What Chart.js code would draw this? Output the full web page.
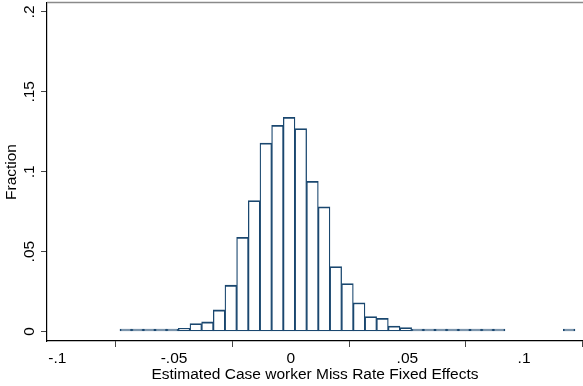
<!DOCTYPE html>
<html>
<head>
<meta charset="utf-8">
<script src="https://cdn.jsdelivr.net/npm/chart.js@4"></script>
<style>
  body { margin: 0; background: #fff; }
</style>
</head>
<body>
<canvas id="histChart" width="583" height="386"></canvas>
<script>
// bin midpoints (bin width .005) and fraction per bin
const binMids = [-0.07067, -0.06567, -0.06067, -0.05567, -0.05067, -0.04567, -0.04067, -0.03567,
  -0.03067, -0.02567, -0.02067, -0.01567, -0.01067, -0.00567, -0.00067, 0.00433, 0.00933,
  0.01433, 0.01933, 0.02433, 0.02933, 0.03433, 0.03933, 0.04433, 0.04933, 0.05433, 0.05933,
  0.06433, 0.06933, 0.07433, 0.07933, 0.08433, 0.08933, 0.09433, 0.09933, 0.10433, 0.10933,
  0.11433, 0.11933];
const fractions = [0.0005, 0.0005, 0.0003, 0.0004, 0.0008, 0.002, 0.005, 0.006,
  0.0135, 0.029, 0.059, 0.082, 0.118, 0.129, 0.134, 0.127, 0.094,
  0.078, 0.0406, 0.030, 0.018, 0.0093, 0.0083, 0.0034, 0.0024, 0.0003, 0.0008,
  0.0003, 0.0001, 0.0003, 0.0002, 0.0002, 0.0002, null, null, null, null,
  null, 0.0005];
const xTicks = [-0.1, -0.05, 0, 0.05, 0.1];
const yTicks = [0, 0.05, 0.1, 0.15, 0.2];

const FONT = '"Liberation Sans", Arial, Helvetica, sans-serif';
const NAVY = '#1a476f';

// stata style numbers: -.05, .1, 0
function stataFmt(v) {
  if (Math.abs(v) < 1e-9) return '0';
  let s = String(Math.round(v * 1000) / 1000);
  return s.replace(/^(-?)0\./, '$1.');
}

// y tick labels are vertical in the original, chart.js can't rotate them on a y axis
const rotatedYLabels = {
  id: 'rotatedYLabels',
  afterDraw(chart) {
    const ctx = chart.ctx;
    const y = chart.scales.y;
    ctx.save();
    ctx.fillStyle = '#000';
    ctx.font = '15.5px ' + FONT;
    ctx.textAlign = 'center';
    ctx.textBaseline = 'middle';
    yTicks.forEach(v => {
      ctx.save();
      ctx.translate(30, y.getPixelForValue(v));
      ctx.rotate(-Math.PI / 2);
      ctx.fillText(stataFmt(v), 0, 0);
      ctx.restore();
    });
    // grey line along the top of the plot region
    const a = chart.chartArea;
    ctx.strokeStyle = '#8a8a8a';
    ctx.lineWidth = 1.5;
    ctx.beginPath();
    ctx.moveTo(a.left, 2.5);
    ctx.lineTo(a.right, 2.5);
    ctx.stroke();
    ctx.restore();
  }
};

const ctx = document.getElementById('histChart').getContext('2d');
const histChart = new Chart(ctx, {
  type: 'bar',
  data: {
    datasets: [{
      label: 'Fraction',
      data: binMids.map((m, i) => ({ x: m, y: fractions[i] })),
      backgroundColor: '#ffffff',
      borderColor: NAVY,
      borderWidth: { top: 1.8, left: 1.3, right: 1.3, bottom: 1.2 },
      borderSkipped: false,
      barPercentage: 1,
      categoryPercentage: 1,
      minBarLength: 2.5
    }]
  },
  options: {
    responsive: false,
    animation: false,
    layout: { padding: { top: 3, right: 0, left: 0, bottom: 0 } },
    plugins: { legend: { display: false }, tooltip: { enabled: false } },
    scales: {
      x: {
        type: 'linear',
        offset: false,
        min: -0.10444,
        max: 0.12527,
        afterBuildTicks: s => { s.ticks = xTicks.map(v => ({ value: v })); },
        afterFit: s => { s.height = 45; },
        ticks: {
          callback: v => stataFmt(v),
          color: '#000',
          font: { family: FONT, size: 15.5 },
          padding: 2,
          maxRotation: 0,
          autoSkip: false
        },
        grid: { drawOnChartArea: false, drawTicks: true, tickLength: 6, tickColor: '#444' },
        border: { color: '#000', width: 1.2 },
        title: {
          display: true,
          text: 'Estimated Case worker Miss Rate Fixed Effects',
          color: '#000',
          font: { family: FONT, size: 15.5 },
          padding: { top: 0, bottom: 2 }
        }
      },
      y: {
        min: -0.00595,
        max: 0.2056,
        afterBuildTicks: s => { s.ticks = yTicks.map(v => ({ value: v })); },
        afterFit: s => { s.width = 47; },
        ticks: { display: false },
        grid: { drawOnChartArea: false, drawTicks: true, tickLength: 6, tickColor: '#444' },
        border: { color: '#000', width: 1.2 },
        title: {
          display: true,
          text: 'Fraction',
          color: '#000',
          font: { family: FONT, size: 15.5 },
          padding: { top: 2, bottom: 0 }
        }
      }
    }
  },
  plugins: [rotatedYLabels]
});
</script>
</body>
</html>
